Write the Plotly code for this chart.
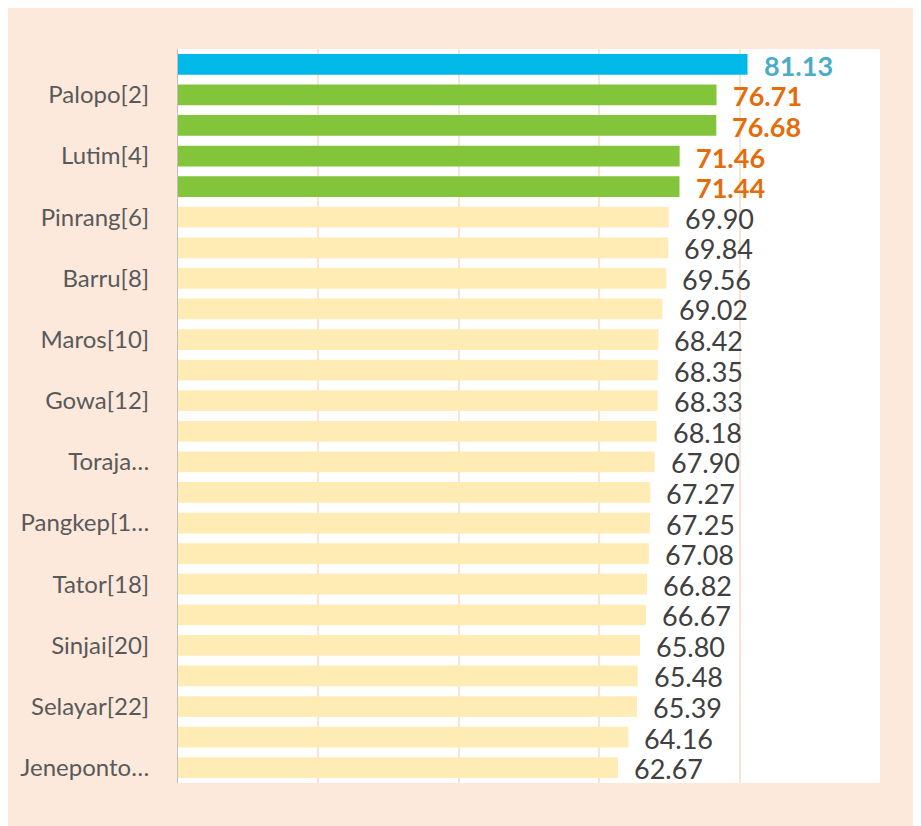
import plotly.graph_objects as go

ranks = list(range(1, 25))
values = [81.13, 76.71, 76.68, 71.46, 71.44, 69.90, 69.84, 69.56, 69.02, 68.42,
          68.35, 68.33, 68.18, 67.90, 67.27, 67.25, 67.08, 66.82, 66.67, 65.80,
          65.48, 65.39, 64.16, 62.67]
tick_ranks = [2, 4, 6, 8, 10, 12, 14, 16, 18, 20, 22, 24]
tick_labels = ["Palopo[2]", "Lutim[4]", "Pinrang[6]", "Barru[8]", "Maros[10]",
               "Gowa[12]", "Toraja…", "Pangkep[1…", "Tator[18]", "Sinjai[20]",
               "Selayar[22]", "Jeneponto…"]

BLUE, GREEN, YELLOW = "#00B9E8", "#83C53A", "#FFEBB4"
bar_colors = [BLUE] + [GREEN] * 4 + [YELLOW] * 19
text_colors = ["#4BACC6"] + ["#E46C0A"] * 4 + ["#404040"] * 19
text_bold = [True] * 5 + [False] * 19

FONT = "Lato, Open Sans, sans-serif"

fig = go.Figure()
fig.add_trace(go.Bar(
    x=values, y=ranks, orientation="h",
    marker=dict(color=bar_colors, line=dict(width=0)),
    hoverinfo="x+y",
))

for r, v, c, b in zip(ranks, values, text_colors, text_bold):
    fig.add_annotation(
        x=v, y=r, text=(f"<b>{v:.2f}</b>" if b else f"{v:.2f}"),
        showarrow=False, xanchor="left", yanchor="middle", xshift=14, yshift=-1,
        font=dict(family=FONT, size=27, color=c),
    )

W, H = 921, 826
fig.update_layout(
    width=W, height=H,
    margin=dict(l=170, r=49, t=41, b=51),
    paper_bgcolor="#FCE9DC", plot_bgcolor="white",
    bargap=0.32, showlegend=False,
    font=dict(family=FONT),
    xaxis=dict(range=[0, 100], dtick=20, showgrid=True, gridcolor="#FBE3D2", gridwidth=1.5,
               showticklabels=False, zeroline=False, showline=False, fixedrange=True),
    yaxis=dict(range=[24.5, 0.5], tickmode="array", tickvals=tick_ranks, ticktext=tick_labels,
               showgrid=False, zeroline=False, showline=True, linecolor="#BFBFBF", linewidth=1,
               ticks="", ticklabelstandoff=23,
               tickfont=dict(family=FONT, size=24, color="#595959")),
)

fig.write_html("out.html")
